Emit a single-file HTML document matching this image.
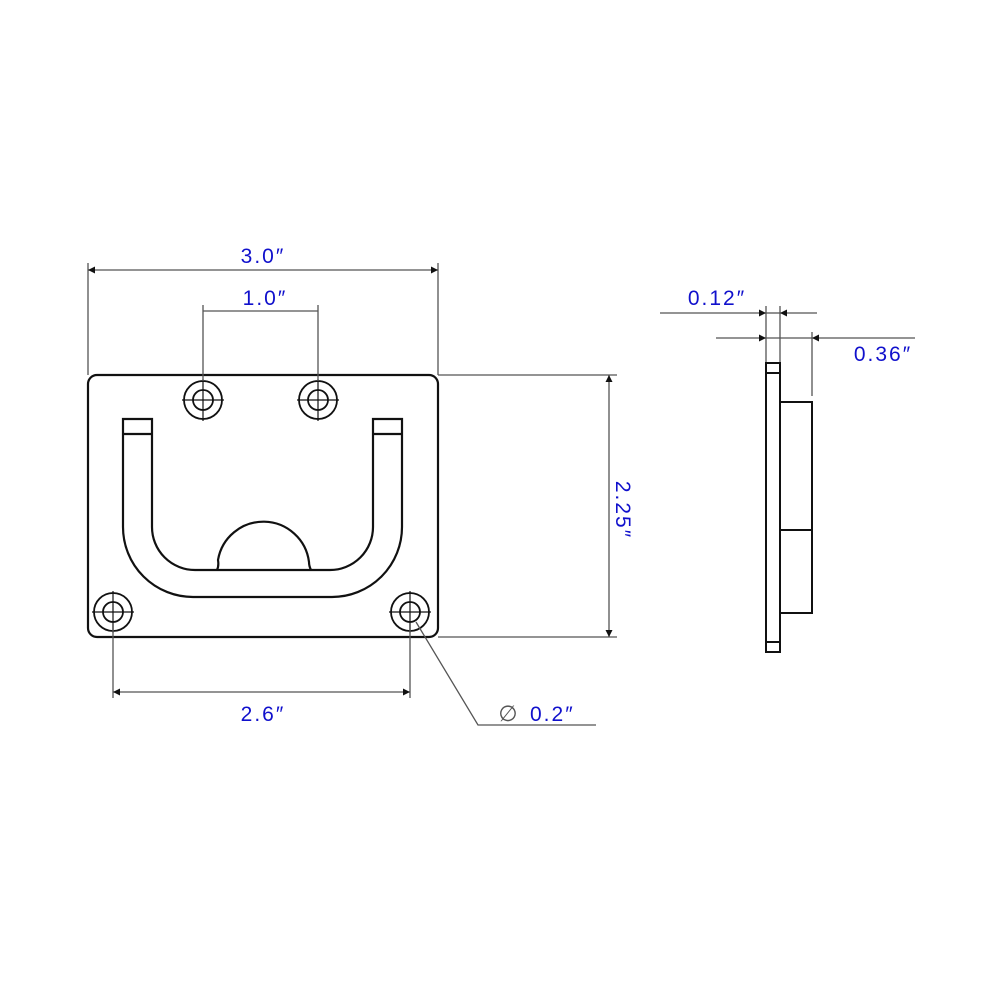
<!DOCTYPE html>
<html><head><meta charset="utf-8"><style>html,body{margin:0;padding:0;background:#fff}</style></head>
<body>
<svg width="1000" height="1000" viewBox="0 0 1000 1000" xmlns="http://www.w3.org/2000/svg">
<defs>
<marker id="a" viewBox="0 0 10 10" refX="10" refY="5" markerWidth="12" markerHeight="7" orient="auto-start-reverse" markerUnits="userSpaceOnUse"><path d="M0,0 L10,5 L0,10 z" fill="#111"/></marker>
</defs>
<g fill="none" stroke="#111" stroke-width="2.2">
<rect x="88" y="375" width="350" height="262" rx="9"/>
<path d="M123,419 H152 V527 A43,43 0 0 0 195,570 H330 A43,43 0 0 0 373,527 V419 H402 V527 A70,70 0 0 1 332,597 H193 A70,70 0 0 1 123,527 Z"/>
<line x1="123" y1="434" x2="152" y2="434"/><line x1="373" y1="434" x2="402" y2="434"/>
<path d="M217,570 Q219,566 218,560 A46,46 0 0 1 309,562 Q309,566 311,570"/>
</g>
<g fill="none" stroke="#111" stroke-width="1.8">
<circle cx="203" cy="400" r="19"/><circle cx="203" cy="400" r="10"/>
<circle cx="318" cy="400" r="19"/><circle cx="318" cy="400" r="10"/>
<circle cx="113" cy="612" r="19"/><circle cx="113" cy="612" r="10"/>
<circle cx="410" cy="612" r="19"/><circle cx="410" cy="612" r="10"/>
</g>
<g stroke="#111" stroke-width="1.2">
<path d="M182,400h42M203,379v42M297,400h42M318,379v42M92,612h42M113,591v42M389,612h42M410,591v42"/>
</g>
<g stroke="#555" stroke-width="1.3" fill="none">
<line x1="88" y1="263" x2="88" y2="375"/><line x1="438" y1="263" x2="438" y2="375"/>
<line x1="88" y1="270" x2="438" y2="270" marker-start="url(#a)" marker-end="url(#a)"/>
<line x1="203" y1="305" x2="203" y2="381"/><line x1="318" y1="305" x2="318" y2="381"/>
<line x1="203" y1="311" x2="318" y2="311"/>
<line x1="438" y1="375" x2="617" y2="375"/><line x1="438" y1="637" x2="617" y2="637"/>
<line x1="609" y1="375" x2="609" y2="637" marker-start="url(#a)" marker-end="url(#a)"/>
<line x1="113" y1="630" x2="113" y2="698"/><line x1="410" y1="630" x2="410" y2="698"/>
<line x1="113" y1="692" x2="410" y2="692" marker-start="url(#a)" marker-end="url(#a)"/>
<polyline points="416,622 478,725 596,725"/>
<line x1="766" y1="306" x2="766" y2="363"/><line x1="780" y1="306" x2="780" y2="363"/>
<line x1="660" y1="313" x2="766" y2="313" marker-end="url(#a)"/>
<line x1="817" y1="313" x2="780" y2="313" marker-end="url(#a)"/>
<line x1="766" y1="313" x2="780" y2="313"/>
<line x1="716" y1="338" x2="766" y2="338" marker-end="url(#a)"/>
<line x1="766" y1="338" x2="812" y2="338"/>
<line x1="915" y1="338" x2="812" y2="338" marker-end="url(#a)"/>
<line x1="812" y1="332" x2="812" y2="396"/>
</g>
<g fill="none" stroke="#111" stroke-width="2">
<rect x="766" y="363" width="14" height="289"/>
<line x1="766" y1="373" x2="780" y2="373"/><line x1="766" y1="642" x2="780" y2="642"/>
<rect x="780" y="402" width="32" height="211"/>
<line x1="780" y1="530" x2="812" y2="530"/>
</g>
<g font-family="Liberation Sans, DejaVu Sans, sans-serif" font-size="21" fill="#1010cc" letter-spacing="2">
<text x="263" y="263" text-anchor="middle">3.0″</text>
<text x="265" y="305" text-anchor="middle">1.0″</text>
<text x="263" y="721" text-anchor="middle">2.6″</text>
<text x="530" y="721">0.2″</text>
<text x="717" y="305" text-anchor="middle">0.12″</text>
<text x="883" y="361" text-anchor="middle">0.36″</text>
<text transform="translate(616,510) rotate(90)" text-anchor="middle">2.25″</text>
</g>
<text x="508" y="721" font-family="DejaVu Sans, sans-serif" font-size="22" fill="#555" text-anchor="middle">∅</text>
</svg>
</body></html>
